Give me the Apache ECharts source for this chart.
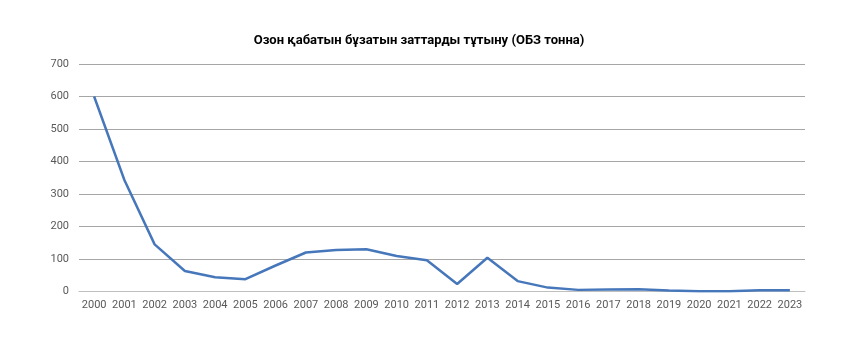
<!DOCTYPE html>
<html><head><meta charset="utf-8">
<script src="https://cdn.jsdelivr.net/npm/echarts@6/dist/echarts.min.js"></script>
<style>html,body{margin:0;padding:0;background:#fff}#c{width:864px;height:363px}</style>
</head><body><div id="c"></div>
<script>
const titleText = 'Озон қабатын бұзатын заттарды тұтыну (ОБЗ тонна)';
const years = ['2000','2001','2002','2003','2004','2005','2006','2007','2008','2009','2010','2011','2012','2013','2014','2015','2016','2017','2018','2019','2020','2021','2022','2023'];
const values = [600,343,145,63,44,38,80,120,128,130,109,96,23,104,32,12,5,6,7,3,1,1,4,4];
const yTicks = {min:0, max:700, interval:100};

const chart = echarts.init(document.getElementById('c'));
chart.setOption({
  animation:false,
  title:{text:titleText,left:414,textAlign:'center',top:29,textStyle:{fontFamily:'Roboto',fontSize:13,fontWeight:'bold',color:'#000'}},
  grid:{left:79,right:59,top:64,bottom:71.5},
  xAxis:{type:'category',data:years,boundaryGap:true,
    axisLine:{lineStyle:{color:'#bfbfbf'}},axisTick:{show:false},
    axisLabel:{color:'#595959',fontFamily:'Roboto',fontSize:11,margin:8,interval:0}},
  yAxis:{type:'value',min:yTicks.min,max:yTicks.max,interval:yTicks.interval,
    axisLine:{show:false},axisTick:{show:false},
    splitLine:{lineStyle:{color:'#a6a6a6',width:1}},
    axisLabel:{color:'#595959',fontFamily:'Roboto',fontSize:11,margin:10}},
  series:[{type:'line',data:values,symbol:'none',lineStyle:{color:'#4677bb',width:2.5}}]
});
</script></body></html>
